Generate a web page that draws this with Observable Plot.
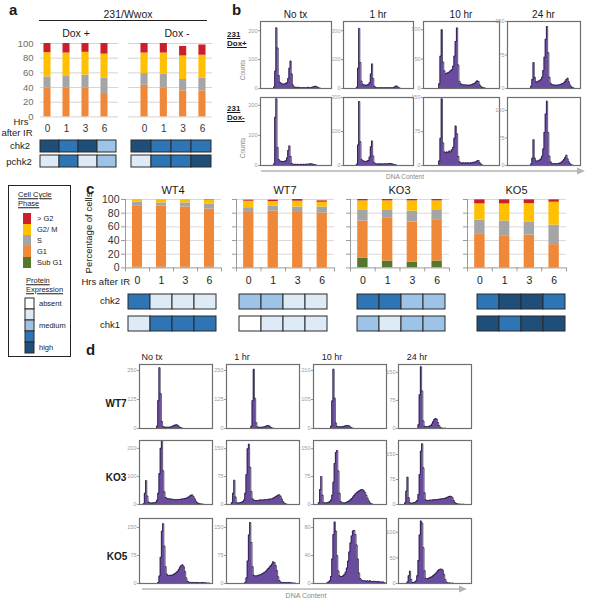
<!DOCTYPE html>
<html><head><meta charset="utf-8">
<script src="https://cdn.jsdelivr.net/npm/d3@7"></script>
<script src="https://cdn.jsdelivr.net/npm/@observablehq/plot@0.6"></script>
<style>
html,body{margin:0;padding:0;background:#fff;}
#fig{position:relative;width:590px;height:601px;overflow:hidden;font-family:"Liberation Sans",Arial,sans-serif;color:#1a1a1a;}
.t{position:absolute;white-space:nowrap;line-height:1;}
.p{position:absolute;line-height:0;}
.p svg{overflow:visible;}
</style></head><body><div id="fig"></div>
<script>
// ================= DATA =================
const phaseNames  = [">G2", "G2/M", "S", "G1", "SubG1"];
const phaseLabels = ["> G2", "G2/ M", "S", "G1", "Sub G1"];
const phaseColors = ["#cc1f2b", "#ffc000", "#a5a5a5", "#f0883a", "#56752d"];
const levelLabels = ["absent", "", "medium", "", "high"];
const levelColors = ["#ffffff", "#deebf7", "#9dc3e6", "#2e75b6", "#1f4e79"];
const hours = ["0", "1", "3", "6"];
const pctTicks = [0, 20, 40, 60, 80, 100];

// panel a : 231/Wwox, % of cells
const aDoxPlus_G1   = [39.5, 39.5, 39.5, 32];
const aDoxPlus_S    = [15, 15.5, 17.5, 21];
const aDoxPlus_G2M  = [33, 32, 31, 32.5];
const aDoxPlus_gtG2 = [12.5, 13, 12, 14.5];
const aDoxMinus_G1   = [43, 39.5, 35.5, 35.5];
const aDoxMinus_S    = [16, 18.5, 15.5, 17.5];
const aDoxMinus_G2M  = [28, 29, 32, 31];
const aDoxMinus_gtG2 = [13, 13, 13, 14];
const aDoxPlus_chk2   = [4, 3, 4, 2];
const aDoxPlus_pchk2  = [1, 3, 1, 2];
const aDoxMinus_chk2  = [4, 3, 3, 3];
const aDoxMinus_pchk2 = [1, 3, 3, 4];

// panel c : percentage of cells
const wt4_SubG1 = [1, 1, 1, 1];
const wt4_G1    = [90, 89.5, 88, 85];
const wt4_S     = [5, 4.5, 6, 7.5];
const wt4_G2M   = [4, 5, 5, 6];
const wt4_gtG2  = [0, 0, 0, 0.5];
const wt7_SubG1 = [0.5, 0.5, 0.5, 0.5];
const wt7_G1    = [80.5, 82.5, 80.5, 79.5];
const wt7_S     = [7, 7, 8, 9];
const wt7_G2M   = [9.5, 7, 8.5, 7];
const wt7_gtG2  = [1.5, 2, 2.5, 2];
const ko3_SubG1 = [14, 10, 8.4, 10];
const ko3_G1    = [54.5, 62.4, 58.6, 59.5];
const ko3_S     = [15.5, 12.6, 16, 15.5];
const ko3_G2M   = [14, 13, 15, 13];
const ko3_gtG2  = [2, 2, 2, 2];
const ko5_SubG1 = [0.5, 0.5, 0.5, 0.5];
const ko5_G1    = [48.5, 46.5, 47.5, 33.5];
const ko5_S     = [21, 21.5, 18.5, 28.5];
const ko5_G2M   = [23.6, 25, 27.5, 33.5];
const ko5_gtG2  = [5.9, 6, 5.5, 3.5];
const wt4_chk2 = [3, 1, 1, 1], wt4_chk1 = [1, 3, 3, 3];
const wt7_chk2 = [2, 2, 1, 1], wt7_chk1 = [0, 1, 1, 1];
const ko3_chk2 = [3, 3, 2, 2], ko3_chk1 = [2, 1, 2, 2];
const ko5_chk2 = [3, 4, 4, 3], ko5_chk1 = [4, 3, 4, 4];

// histogram column titles
const histCols = ["No tx", "1 hr", "10 hr", "24 hr"];

// panel b histograms (counts per DNA-content bin, 60 bins)
const b_doxPlus_noTx = [0,0,0,0,0,0,0,0,0,0, 0,5,60,210,140,45,22,18,16,15, 16,18,20,35,70,95,50,12,5,4, 4,3,4,3,3,3,3,3,3,3, 4,3,3,4,5,7,8,6,4,2, 1,0,0,0,0,0,0,0,0,0];
const b_doxPlus_1hr  = [0,0,0,0,0,0,0,0,0,0, 0,4,70,208,90,25,15,12,12,11, 12,14,20,50,85,35,8,4,3,3, 2,3,2,3,2,3,2,3,3,2, 3,3,3,4,7,9,6,3,1,0, 0,0,0,0,0,0,0,0,0,0];
const b_doxPlus_10hr = [0,0,0,0,0,0,0,0,0,0, 0,0,8,55,100,45,30,25,26,27, 28,30,32,38,55,80,103,40,12,8, 7,6,6,6,6,5,6,6,7,8, 9,11,13,12,6,3,2,1,1,0, 0,0,0,0,0,0,0,0,0,0];
const b_doxPlus_24hr = [0,0,0,0,0,0,0,0,0,0, 0,0,0,0,0,0,0,0,0,5, 20,58,25,14,15,16,18,20,25,40, 70,110,139,80,25,12,9,8,8,7, 7,8,8,9,10,11,13,16,20,23, 15,8,4,2,1,0,0,0,0,0];
const b_doxMinus_noTx = [0,0,0,0,0,0,0,0,0,0, 0,5,160,222,60,20,15,14,13,13, 14,16,25,50,65,30,7,4,3,4, 3,4,3,3,4,3,4,3,4,4, 4,5,6,5,4,3,2,1,0,0, 0,0,0,0,0,0,0,0,0,0];
const b_doxMinus_1hr  = [0,0,0,0,0,0,0,0,0,0, 0,4,60,188,70,18,14,13,12,12, 13,15,25,55,72,28,8,5,4,5, 4,5,4,5,4,5,5,4,5,6, 6,5,4,3,2,1,0,0,0,0, 0,0,0,0,0,0,0,0,0,0];
const b_doxMinus_10hr = [0,0,0,0,0,0,0,0,0,0, 0,0,10,60,147,50,30,28,30,28, 32,30,35,40,60,87,70,20,8,6, 5,6,5,6,5,6,5,6,6,7, 7,8,10,11,6,3,1,0,0,0, 0,0,0,0,0,0,0,0,0,0];
const b_doxMinus_24hr = [0,0,0,0,0,0,0,0,0,0, 0,0,0,0,0,0,0,0,0,4, 20,70,20,12,12,13,15,18,25,45, 90,140,175,90,25,10,6,5,5,5, 5,5,6,7,9,12,16,22,28,18, 10,5,2,1,0,0,0,0,0,0];

// panel d histograms
const d_wt7_noTx = [0,0,0,0,0,0,0,0,0,0, 0,0,0,0,10,120,262,150,30,8, 6,5,5,5,5,6,8,11,13,15, 16,14,9,4,2,1,0,0,0,0, 0,0,0,0,0,0,0,0,0,0, 0,0,0,0,0,0,0,0,0,0];
const d_wt7_1hr  = [0,0,0,0,0,0,0,0,0,0, 0,0,0,0,0,0,0,0,0,0, 10,120,255,130,25,6,5,5,5,5, 6,8,10,12,13,10,5,2,1,0, 0,0,0,0,0,0,0,0,0,0, 0,0,0,0,0,0,0,0,0,0];
const d_wt7_10hr = [0,0,0,0,0,0,0,0,0,0, 0,0,0,0,8,100,215,110,20,7, 6,6,6,6,7,8,10,11,11,9, 5,2,1,0,0,0,0,0,0,0, 0,0,0,0,0,0,0,0,0,0, 0,0,0,0,0,0,0,0,0,0];
const d_wt7_24hr = [0,0,0,0,0,0,0,0,0,0, 0,0,0,0,0,0,10,90,165,100, 20,6,5,5,5,6,8,12,18,24, 27,25,16,8,3,1,1,0,1,0, 0,0,0,0,0,0,0,0,0,0, 0,0,0,0,0,0,0,0,0,0];
const d_ko3_noTx = [0,0,0,3,40,85,30,8,6,5, 5,6,6,8,15,40,110,200,225,120, 45,25,22,21,20,20,19,18,18,17, 17,18,18,18,19,20,20,21,22,24, 27,30,33,34,28,20,12,7,4,3, 2,1,1,0,0,0,0,0,0,0];
const d_ko3_1hr  = [0,0,0,0,5,30,65,20,5,4, 4,5,6,8,12,30,80,150,162,100, 35,15,12,11,11,11,11,12,12,12, 12,13,13,13,14,14,15,15,17,19, 21,23,25,26,22,15,8,4,2,1, 0,0,0,0,0,0,0,0,0,0];
const d_ko3_10hr = [0,0,0,0,5,40,75,25,5,4, 4,5,6,8,12,25,60,110,140,145, 90,30,8,5,4,4,5,6,8,10, 13,16,20,24,28,31,34,36,38,40, 40,37,32,25,17,10,5,2,1,0, 0,0,0,0,0,0,0,0,0,0];
const d_ko3_24hr = [0,0,0,0,0,5,40,82,20,5, 4,4,5,6,8,12,30,90,160,182, 110,35,14,12,12,13,13,13,14,14, 14,15,15,16,16,17,17,18,19,20, 22,24,25,24,20,12,6,3,2,1, 1,1,0,1,0,0,0,0,0,0];
const d_ko5_noTx = [0,0,0,0,0,0,0,0,0,0, 0,0,0,0,0,3,20,70,140,160, 100,45,25,22,21,22,22,23,25,27, 30,33,38,44,48,50,45,32,15,6, 4,3,3,3,2,3,2,3,2,2, 2,3,2,2,2,1,1,1,0,0];
const d_ko5_1hr  = [0,0,0,0,0,0,0,0,0,0, 0,0,0,0,0,3,15,60,130,163, 110,45,22,20,20,21,22,23,24,26, 28,30,33,36,40,44,48,52,58,56, 48,35,18,8,4,3,3,3,2,3, 2,3,2,2,1,1,1,0,0,0];
const d_ko5_10hr = [0,0,0,0,0,0,0,0,0,0, 0,1,2,4,10,35,70,88,75,40, 18,11,10,10,11,13,16,22,32,45, 58,68,75,76,70,55,35,15,7,5, 4,4,4,3,4,3,4,3,3,3, 3,3,2,3,2,2,2,2,1,1];
const d_ko5_24hr = [0,0,0,0,0,0,0,3,15,24, 8,2,2,3,5,15,45,95,122,118, 70,25,10,9,10,11,12,13,15,17, 19,22,25,27,28,28,26,18,8,3, 1,1,1,0,1,0,0,0,0,0, 0,0,0,0,0,0,0,0,0,0];

// y-axis domains / tick values for histograms
const b_domains = [[232, 232, 114, 150], [226, 200, 150, 185]];
const b_ticks = [[[0,100,200],[0,100,200],[0,50,100],[0,75,150]], [[0,100,200],[0,100,200],[0,75,150],[0,75,150]]];
const d_domains = [[276, 276, 232, 171], [228, 172, 172, 192], [174, 174, 93, 127]];
const d_ticks = [[[0,125,250],[0,125,250],[0,105,210],[0,75,150]], [[0,100,200],[0,75,150],[0,75,150],[0,75,150]], [[0,75,150],[0,75,150],[0,40,80],[0,50,100]]];

// ================= HELPERS =================
const fig = document.getElementById("fig");
const FONT = '"Liberation Sans", Arial, sans-serif';
const PURPLE = "#6a4c9f";
function T(str, x, y, o = {}) {
  const d = document.createElement("div");
  d.className = "t";
  d.textContent = str;
  d.style.left = x + "px"; d.style.top = y + "px";
  d.style.fontSize = (o.size || 9) + "px";
  if (o.bold) d.style.fontWeight = "bold";
  if (o.color) d.style.color = o.color;
  if (o.underline) d.style.textDecoration = "underline";
  const ax = o.anchor === "start" ? "0" : o.anchor === "end" ? "-100%" : "-50%";
  d.style.transform = `translate(${ax},-50%)` + (o.rotate ? ` rotate(${o.rotate}deg)` : "");
  fig.appendChild(d);
  return d;
}
function P(svg, x, y) {
  const d = document.createElement("div");
  d.className = "p"; d.style.left = x + "px"; d.style.top = y + "px";
  d.appendChild(svg); fig.appendChild(d);
}
function stackRows(series) {
  const order = ["SubG1", "G1", "S", "G2/M", ">G2"];
  const rows = [];
  hours.forEach((h, i) => {
    let acc = 0;
    order.forEach(p => {
      const v = series[p] ? series[p][i] : 0;
      if (v > 0) rows.push({i, h, phase: p, y1: acc, y2: acc + v});
      acc += v;
    });
  });
  return rows;
}
const phaseScale = {domain: phaseNames, range: phaseColors};

// bar chart, panel a style
function barsA(series, o) {
  const ml = 26, mt = 5, mb = 3, mr = 2;
  const w = o.x1 - o.x0, h = 73.4;
  const rows = stackRows(series);
  const marks = [
    Plot.gridY(pctTicks, {stroke: "#d4d4d4", strokeOpacity: 1}),
    Plot.rect(rows, {x1: d => d.i + 0.5 - 0.185, x2: d => d.i + 0.5 + 0.185, y1: "y1", y2: "y2", fill: "phase"})
  ];
  if (o.labels) marks.push(Plot.axisY(pctTicks, {tickSize: 0, tickPadding: 7, fontSize: 9.5, color: "#6d6d6d", label: null}));
  P(Plot.plot({
    width: w + ml + mr, height: h + mt + mb, marginLeft: ml, marginRight: mr, marginTop: mt, marginBottom: mb,
    style: {fontFamily: FONT, background: "transparent"},
    x: {domain: o.dom, axis: null, label: null}, y: {domain: [0, 100], axis: null, label: null}, color: phaseScale, marks
  }), o.x0 - ml, 43.3 - mt);
}

// bar chart, panel c style
function barsC(series, o) {
  const ml = 30, mt = 6, mb = 22, mr = 3;
  const w = o.x1 - o.x0, h = 68.4;
  const rows = stackRows(series);
  const marks = [
    Plot.gridY([20, 40, 60, 80, 100], {stroke: "#d9d9d9", strokeOpacity: 1}),
    Plot.rect(rows, {x1: d => d.i + 0.5 - 0.21, x2: d => d.i + 0.5 + 0.21, y1: "y1", y2: "y2", fill: "phase"}),
    Plot.ruleX([0], {stroke: "#9a9a9a"}),
    Plot.ruleY([0], {stroke: "#9a9a9a"}),
    Plot.axisY(pctTicks, {tickSize: 4, tickPadding: 2, fontSize: 10.5, color: "#333", stroke: "#9a9a9a", label: null,
      tickFormat: o.labels ? (d => d) : (() => "")}),
    Plot.axisX([0, 1, 2, 3, 4], {tickSize: 4, stroke: "#9a9a9a", tickFormat: () => "", label: null}),
    Plot.axisX([0.5, 1.5, 2.5, 3.5], {tickSize: 0, tickPadding: 9, fontSize: 10.5, color: "#222", label: null, tickFormat: d => hours[Math.floor(d)]})
  ];
  P(Plot.plot({
    width: w + ml + mr, height: h + mt + mb, marginLeft: ml, marginRight: mr, marginTop: mt, marginBottom: mb,
    style: {fontFamily: FONT, background: "transparent"},
    x: {domain: [0, 4], axis: null, label: null}, y: {domain: [0, 100], axis: null, label: null}, color: phaseScale, marks
  }), o.x0 - ml, 199.3 - mt);
}

// heatmap rows
function heat(rowsSpec, o) {
  const data = [];
  rowsSpec.forEach(([name, vals]) => vals.forEach((v, i) => data.push({prot: name, h: hours[i], level: v})));
  P(Plot.plot({
    width: o.w + 2, height: o.h + 2, margin: 1,
    style: {background: "transparent"},
    x: {domain: hours, padding: 0, axis: null},
    y: {domain: rowsSpec.map(r => r[0]), paddingInner: o.pad, paddingOuter: 0, axis: null},
    color: {type: "ordinal", domain: [0, 1, 2, 3, 4], range: levelColors},
    marks: [Plot.cell(data, {x: "h", y: "prot", fill: "level", stroke: "#2a2a2a", strokeWidth: 1})]
  }), o.x - 1, o.y - 1);
}

// histogram
function hist(vals, o) {
  const ml = 22;
  const data = vals.map((v, i) => ({bin: i, count: v}));
  P(Plot.plot({
    width: o.w + ml + 1, height: o.h + 2, marginLeft: ml, marginRight: 1, marginTop: 1, marginBottom: 1,
    style: {fontFamily: FONT, background: "transparent"},
    x: {domain: [0, 60], axis: null, label: null}, y: {domain: [0, o.max], axis: null, label: null},
    marks: [
      Plot.areaY(data, {x: "bin", y: "count", curve: "step-after", fill: PURPLE}),
      Plot.lineY(data, {x: "bin", y: "count", curve: "step-after", stroke: "#1c1430", strokeWidth: 0.7}),
      Plot.axisY(o.ticks, {tickSize: 2, tickPadding: 1, fontSize: 5.5, color: "#9a9a9a", label: null}),
      Plot.frame({stroke: "#6e6e6e", strokeWidth: 1.2})
    ]
  }), o.x - ml, o.y - 1);
}

function arrow(x0, x1, y) {
  const svg = d3.create("svg").attr("width", x1 - x0 + 2).attr("height", 10);
  svg.append("line").attr("x1", 0).attr("x2", x1 - x0 - 6).attr("y1", 5).attr("y2", 5).attr("stroke", "#b5b5b5").attr("stroke-width", 1.3);
  svg.append("path").attr("d", `M${x1 - x0 - 8},1.5 L${x1 - x0},5 L${x1 - x0 - 8},8.5 Z`).attr("fill", "#b5b5b5");
  P(svg.node(), x0, y - 5);
}

// ================= PANEL a =================
T("a", 9, 9, {size: 15, bold: true, anchor: "start"});
T("231/Wwox", 128, 14, {size: 10.5});
const hr = document.createElement("div");
hr.style.cssText = "position:absolute;left:39px;top:20px;width:168px;height:0;border-top:1px solid #222;";
fig.appendChild(hr);
T("Dox +", 76, 33, {size: 10.5});
T("Dox -", 177, 33, {size: 10.5});
barsA({G1: aDoxPlus_G1, S: aDoxPlus_S, "G2/M": aDoxPlus_G2M, ">G2": aDoxPlus_gtG2}, {x0: 40, x1: 118, dom: [0.132, 4.237], labels: true});
barsA({G1: aDoxMinus_G1, S: aDoxMinus_S, "G2/M": aDoxMinus_G2M, ">G2": aDoxMinus_gtG2}, {x0: 128, x1: 212, dom: [-0.33, 4.02], labels: false});
function hourLabels(x0, x1, dom, y) {
  P(Plot.plot({
    width: x1 - x0, height: 14, margin: 0, style: {fontFamily: FONT, background: "transparent", overflow: "visible"},
    x: {domain: dom, axis: null}, y: {domain: [0, 1], axis: null},
    marks: [Plot.text(hours, {x: (d, i) => i + 0.5, y: 0.5, text: d => d, fontSize: 10, fill: "#333"})]
  }), x0, y - 7);
}
hourLabels(40, 118, [0.132, 4.237], 128);
hourLabels(128, 212, [-0.33, 4.02], 128);
T("Hrs", 21, 122, {size: 9.5});
T("after IR", 17, 133, {size: 9.5});
T("chk2", 20, 146, {size: 9.5});
T("pchk2", 19, 162, {size: 9.5});
heat([["chk2", aDoxPlus_chk2], ["pchk2", aDoxPlus_pchk2]], {x: 39, y: 140, w: 78, h: 27, pad: 0.2});
heat([["chk2", aDoxMinus_chk2], ["pchk2", aDoxMinus_pchk2]], {x: 129, y: 140, w: 83, h: 27, pad: 0.2});

// ================= PANEL b =================
T("b", 232, 9, {size: 15, bold: true, anchor: "start"});
const bX = [260, 343, 423, 507], bW = [71, 70, 76, 73];
const bY = [21, 97], bH = [67, 68];
const bCenters = bX.map((x, i) => x + bW[i] / 2);
histCols.forEach((c, i) => T(c, bCenters[i], 15, {size: 10}));
const bData = [[b_doxPlus_noTx, b_doxPlus_1hr, b_doxPlus_10hr, b_doxPlus_24hr], [b_doxMinus_noTx, b_doxMinus_1hr, b_doxMinus_10hr, b_doxMinus_24hr]];
bData.forEach((row, r) => row.forEach((vals, c) => hist(vals, {x: bX[c], y: bY[r], w: bW[c], h: bH[r], max: b_domains[r][c], ticks: b_ticks[r][c]})));
T("231", 227, 35, {size: 8, bold: true, underline: true, anchor: "start"});
T("Dox+", 227, 44, {size: 8, bold: true, underline: true, anchor: "start"});
T("231", 227, 109, {size: 8, bold: true, underline: true, anchor: "start"});
T("Dox-", 227, 118, {size: 8, bold: true, underline: true, anchor: "start"});
T("Counts", 243, 70, {size: 6.5, color: "#888", rotate: -90});
T("Counts", 243, 148, {size: 6.5, color: "#888", rotate: -90});
arrow(261, 585, 171);
T("DNA Content", 405, 177, {size: 6.5, color: "#888"});

// ================= LEGEND =================
const box = document.createElement("div");
box.style.cssText = "position:absolute;left:8px;top:185px;width:63px;height:172px;border:1.3px solid #222;box-sizing:border-box;";
fig.appendChild(box);
T("Cell Cycle", 18, 195, {size: 7.5, underline: true, anchor: "start"});
T("Phase", 18, 204, {size: 7.5, underline: true, anchor: "start"});
P(Plot.plot({
  width: 10, height: 55, margin: 0, style: {background: "transparent"},
  x: {domain: [0], axis: null}, y: {domain: phaseNames, padding: 0, axis: null}, color: phaseScale,
  marks: [Plot.cell(phaseNames, {x: () => 0, y: d => d, fill: d => d})]
}), 22, 213);
phaseLabels.forEach((s, i) => T(s, 37, 218.5 + i * 11, {size: 7.5, anchor: "start"}));
T("Protein", 26, 281, {size: 7.5, underline: true, anchor: "start"});
T("Expression", 26, 290, {size: 7.5, underline: true, anchor: "start"});
P(Plot.plot({
  width: 14, height: 57, margin: 1, style: {background: "transparent"},
  x: {domain: [0], axis: null}, y: {domain: [0, 1, 2, 3, 4], padding: 0, axis: null},
  color: {type: "ordinal", domain: [0, 1, 2, 3, 4], range: levelColors},
  marks: [Plot.cell([0, 1, 2, 3, 4], {x: () => 0, y: d => d, fill: d => d, stroke: "#2a2a2a", strokeWidth: 1})]
}), 22, 297);
levelLabels.forEach((s, i) => { if (s) T(s, 39, 303.5 + i * 11, {size: 7.5, anchor: "start"}); });

// ================= PANEL c =================
T("c", 86, 188, {size: 15, bold: true, anchor: "start"});
const cGroups = [
  {name: "WT4", s: {SubG1: wt4_SubG1, G1: wt4_G1, S: wt4_S, "G2/M": wt4_G2M, ">G2": wt4_gtG2}, x0: 125, x1: 221, hx: 126, hw: 91, chk2: wt4_chk2, chk1: wt4_chk1},
  {name: "WT7", s: {SubG1: wt7_SubG1, G1: wt7_G1, S: wt7_S, "G2/M": wt7_G2M, ">G2": wt7_gtG2}, x0: 236, x1: 334, hx: 237, hw: 91, chk2: wt7_chk2, chk1: wt7_chk1},
  {name: "KO3", s: {SubG1: ko3_SubG1, G1: ko3_G1, S: ko3_S, "G2/M": ko3_G2M, ">G2": ko3_gtG2}, x0: 350, x1: 449, hx: 355, hw: 91, chk2: ko3_chk2, chk1: ko3_chk1},
  {name: "KO5", s: {SubG1: ko5_SubG1, G1: ko5_G1, S: ko5_S, "G2/M": ko5_G2M, ">G2": ko5_gtG2}, x0: 467, x1: 566, hx: 475, hw: 91, chk2: ko5_chk2, chk1: ko5_chk1}
];
cGroups.forEach((g, k) => {
  T(g.name, (g.x0 + g.x1) / 2, 190, {size: 11});
  barsC(g.s, {x0: g.x0, x1: g.x1, labels: k === 0});
  heat([["chk2", g.chk2], ["chk1", g.chk1]], {x: g.hx, y: 293, w: g.hw, h: 39, pad: 0.3});
});
T("Percentage of cells", 89, 233, {size: 9.5, rotate: -90});
T("Hrs after IR", 130, 282, {size: 9.5, anchor: "end"});
T("chk2", 120, 301, {size: 9.5, anchor: "end"});
T("chk1", 120, 325, {size: 9.5, anchor: "end"});

// ================= PANEL d =================
T("d", 86, 349, {size: 15, bold: true, anchor: "start"});
const dX = [139, 226, 313, 398], dW = 73;
const dY = [364, 440, 518], dH = [64, 64, 65];
const dTitleX = [152, 242, 332, 417];
histCols.forEach((c, i) => T(c, dTitleX[i], 357, {size: 9}));
const dData = [[d_wt7_noTx, d_wt7_1hr, d_wt7_10hr, d_wt7_24hr], [d_ko3_noTx, d_ko3_1hr, d_ko3_10hr, d_ko3_24hr], [d_ko5_noTx, d_ko5_1hr, d_ko5_10hr, d_ko5_24hr]];
dData.forEach((row, r) => row.forEach((vals, c) => hist(vals, {x: dX[c], y: dY[r], w: dW, h: dH[r], max: d_domains[r][c], ticks: d_ticks[r][c]})));
T("WT7", 116, 404, {size: 10, bold: true});
T("KO3", 116, 478, {size: 10, bold: true});
T("KO5", 117, 557, {size: 10, bold: true});
arrow(142, 467, 589);
T("DNA Content", 306, 595, {size: 7, color: "#888"});
</script></body></html>
